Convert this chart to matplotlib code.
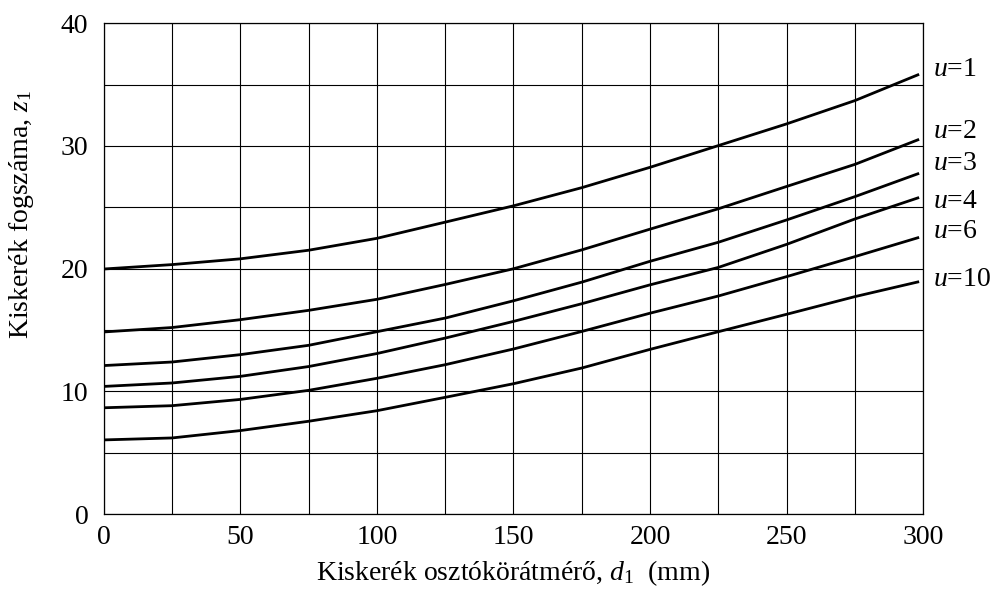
import matplotlib
matplotlib.use("Agg")
import matplotlib.pyplot as plt
from matplotlib.ticker import MultipleLocator

plt.rcParams['font.family'] = ['Liberation Serif', 'DejaVu Serif']
plt.rcParams['mathtext.fontset'] = 'custom'
plt.rcParams['mathtext.rm'] = 'Liberation Serif'
plt.rcParams['mathtext.it'] = 'Liberation Serif:italic'
plt.rcParams['mathtext.default'] = 'it'

# pitch diameter d1 (mm) and teeth count z1
d1 = [0, 25, 50, 75, 100, 125, 150, 175, 200, 225, 250, 275, 298.5]
z_u1 = [19.97, 20.33, 20.8, 21.5, 22.47, 23.79, 25.12, 26.6, 28.26, 30.03, 31.8, 33.7, 35.84]
z_u2 = [14.84, 15.2, 15.84, 16.6, 17.5, 18.71, 19.99, 21.53, 23.22, 24.88, 26.7, 28.5, 30.54]
z_u3 = [12.1, 12.39, 12.99, 13.75, 14.86, 15.97, 17.38, 18.9, 20.6, 22.15, 23.97, 25.87, 27.77]
z_u4 = [10.4, 10.68, 11.22, 12.02, 13.08, 14.34, 15.7, 17.14, 18.68, 20.1, 21.98, 24.05, 25.8]
z_u6 = [8.66, 8.83, 9.34, 10.08, 11.06, 12.17, 13.45, 14.88, 16.37, 17.77, 19.35, 20.98, 22.55]
z_u10 = [6.04, 6.2, 6.8, 7.56, 8.42, 9.51, 10.62, 11.9, 13.42, 14.86, 16.28, 17.72, 18.94]

series = [("1", z_u1), ("2", z_u2), ("3", z_u3), ("4", z_u4), ("6", z_u6), ("10", z_u10)]
label_y = [36.2, 31.2, 28.6, 25.5, 23.0, 19.1]

fig = plt.figure(figsize=(9.97, 5.97), dpi=100)
ax = fig.add_axes([0.104, 0.139, 0.822, 0.822])

for (u, z), ly in zip(series, label_y):
    ax.plot(d1, z, color='black', lw=2.0, solid_capstyle='butt')
    ax.text(303.5, ly, r'$u$=' + u, fontsize=20, va='center', ha='left')

ax.set_xlim(0, 300)
ax.set_ylim(0, 40)
ax.xaxis.set_major_locator(MultipleLocator(50))
ax.xaxis.set_minor_locator(MultipleLocator(25))
ax.yaxis.set_major_locator(MultipleLocator(10))
ax.yaxis.set_minor_locator(MultipleLocator(5))
ax.grid(True, which='both', color='black', lw=0.8)
ax.set_axisbelow(True)
ax.tick_params(which='both', length=0, labelsize=20)
ax.tick_params(axis='y', pad=11)
ax.tick_params(axis='x', pad=8)
for s in ax.spines.values():
    s.set_linewidth(0.9)

ax.set_xlabel(r'Kiskerék osztókörátmérő, $d_{1}$  (mm)', fontsize=20, labelpad=6)
ax.set_ylabel(r'Kiskerék fogszáma, $z_{1}$', fontsize=20)
ax.yaxis.set_label_coords(-0.083, 0.61)

fig.savefig("out.png", dpi=100)
